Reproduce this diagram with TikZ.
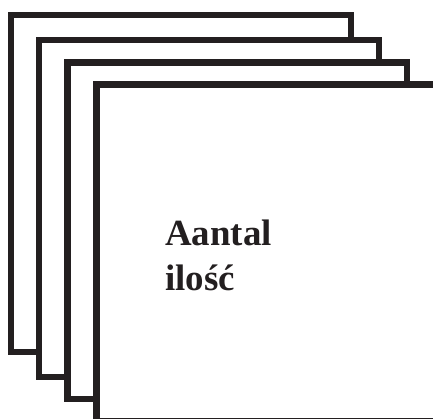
\documentclass[tikz,border=0pt]{standalone}
\usepackage{fontspec}
\setmainfont{Liberation Serif}
\definecolor{ink}{RGB}{35,31,32}
\tikzset{
  sheet/.style={line width=0.13cm, draw=ink, fill=white},
  label/.style={anchor=base west, inner sep=0pt, text=ink,
    font=\bfseries\fontsize{21}{25}\selectfont}
}

\begin{document}
\begin{tikzpicture}[x=0.02cm,y=-0.02cm]
\useasboundingbox (0,0) rectangle (433,419);
\clip (0,0) rectangle (433,419);
% stacked sheets, back to front
\foreach \x/\y in {8/12,36/37,64/59,93/81} {
    \filldraw[sheet] (\x+3.25,\y+3.25) rectangle (\x+342.75,\y+339.75);
}
\node[label] (aantal) at (165,245) {Aantal};
\node[label] (ilosc) at (165,290) {ilość};
\end{tikzpicture}
\end{document}
